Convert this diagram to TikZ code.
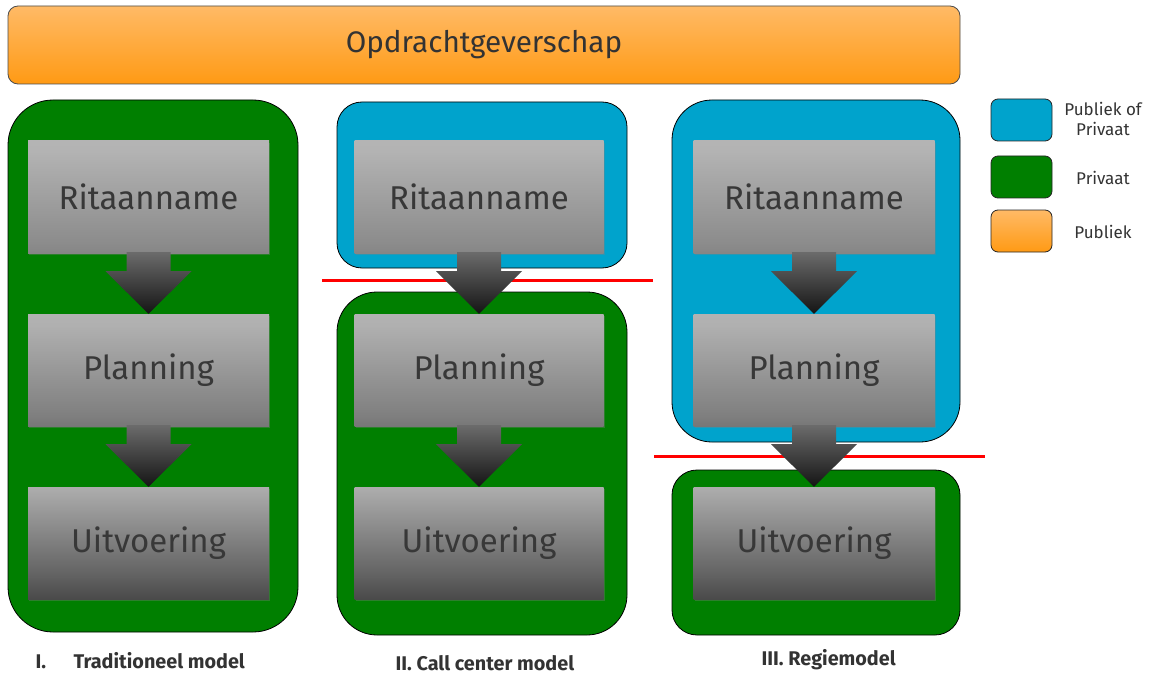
\documentclass[tikz,border=0pt]{standalone}
\usepackage{fontspec}
\setmainfont{Fira Sans}
\usetikzlibrary{calc,shadows}
\definecolor{cgreen}{HTML}{007F00}
\definecolor{ccyan}{HTML}{00A3CC}
\definecolor{orgtop}{HTML}{FFBA66}
\definecolor{orgbot}{HTML}{FF9A14}
\definecolor{txtgray}{HTML}{383838}
\definecolor{lbl}{HTML}{333333}
\pgfdeclareverticalshading{grayA}{100bp}{color(0bp)=(black!60); color(30bp)=(black!45); color(70bp)=(black!30); color(100bp)=(black!26)}
\pgfdeclareverticalshading{grayB}{100bp}{color(0bp)=(black!70); color(30bp)=(black!50); color(70bp)=(black!31); color(100bp)=(black!26)}
\pgfdeclareverticalshading{grayC}{100bp}{color(0bp)=(black!93); color(35bp)=(black!62); color(75bp)=(black!32); color(100bp)=(black!26)}
\tikzset{
  zone/.style={draw=black, line width=0.8pt},
  greenzone/.style={zone, fill=cgreen},
  cyanzone/.style={zone, fill=ccyan},
  graybox/.style={minimum width=241pt, minimum height=112pt, inner sep=0pt,
     text=txtgray, font=\fontsize{33}{33}\selectfont,
     drop shadow={shadow xshift=1pt, shadow yshift=-2pt, opacity=0.35}},
  g1/.style={graybox, shading=grayA},
  g2/.style={graybox, shading=grayB},
  g3/.style={graybox, shading=grayC},
  wide/.style={minimum width=249pt},
  arr/.style={top color=black!58, bottom color=black!92, draw=none},
  redline/.style={draw=red, line width=3pt},
  legbox/.style={draw=black!85, line width=0.8pt, rounded corners=7pt, minimum width=61pt, minimum height=42pt},
  legtxt/.style={text=lbl, font=\fontsize{17}{20}\selectfont, align=center},
  modlbl/.style={text=lbl, font=\bfseries\fontsize{19.8}{22}\selectfont, anchor=base west},
}
\newcommand{\blockarr}[2]{%
  \path[arr] ($(#1.south)+(-22pt,1pt)$) -- ($(#1.south)+(-22pt,-18pt)$) --
    ($(#1.south)+(-43pt,-18pt)$) -- (#2.north) -- ($(#1.south)+(43pt,-18pt)$) --
    ($(#1.south)+(22pt,-18pt)$) -- ($(#1.south)+(22pt,1pt)$) -- cycle;}
\begin{document}
\begin{tikzpicture}[x=1pt,y=-1pt]
\useasboundingbox[fill=white] (0,0) rectangle (1160,674);
% top bar
\node[draw=black!70, line width=0.8pt, rounded corners=10pt, top color=orgtop, bottom color=orgbot,
  minimum width=952pt, minimum height=78pt, inner sep=0pt, text=lbl,
  font=\fontsize{29.7}{30}\selectfont] (top) at (484,45) {Opdrachtgeverschap};
% column 1
\draw[greenzone, rounded corners=45pt] (8,100) rectangle (298,632);
\node[g1] (r1) at (148.5,197) {Ritaanname};
\node[g2] (p1) at (148.5,370) {Planning};
\node[g3] (u1) at (148.5,543) {Uitvoering};
\blockarr{r1}{p1}
\blockarr{p1}{u1}
% column 2
\draw[cyanzone, rounded corners=25pt] (337,102) rectangle (627,268);
\draw[greenzone, rounded corners=40pt] (337,292) rectangle (627,635);
\node[g1, wide] (r2) at (479,197) {Ritaanname};
\node[g2, wide] (p2) at (479,370) {Planning};
\node[g3, wide] (u2) at (479,543) {Uitvoering};
\draw[redline] (322,280) coordinate (ra) -- (653,280) coordinate (rb);
\blockarr{r2}{p2}
\blockarr{p2}{u2}
% column 3
\draw[cyanzone, rounded corners=40pt] (672,100) rectangle (960,442);
\draw[greenzone, rounded corners=25pt] (672,470) rectangle (960,635);
\node[g1] (r3) at (814,197) {Ritaanname};
\node[g2] (p3) at (814,370) {Planning};
\node[g3] (u3) at (814,543) {Uitvoering};
\draw[redline] (654,456) coordinate (rc) -- (985,456) coordinate (rd);
\blockarr{r3}{p3}
\blockarr{p3}{u3}
% legend
\node[legbox, fill=ccyan] (l1) at (1021.5,120) {};
\node[legbox, fill=cgreen] (l2) at (1021.5,177) {};
\node[legbox, top color=orgtop, bottom color=orgbot] (l3) at (1021.5,231) {};
\node[legtxt] (t1) at (1103,119) {Publiek of\\Privaat};
\node[legtxt] (t2) at (1103,178) {Privaat};
\node[legtxt] (t3) at (1103,232) {Publiek};
% model labels
\node[modlbl] (m1a) at (32,668) {I.};
\node[modlbl] (m1b) at (70,668) {Traditioneel model};
\node[modlbl] (m2) at (392,670) {II. Call center model};
\node[modlbl] (m3) at (758,665) {III. Regiemodel};
\end{tikzpicture}
\end{document}
